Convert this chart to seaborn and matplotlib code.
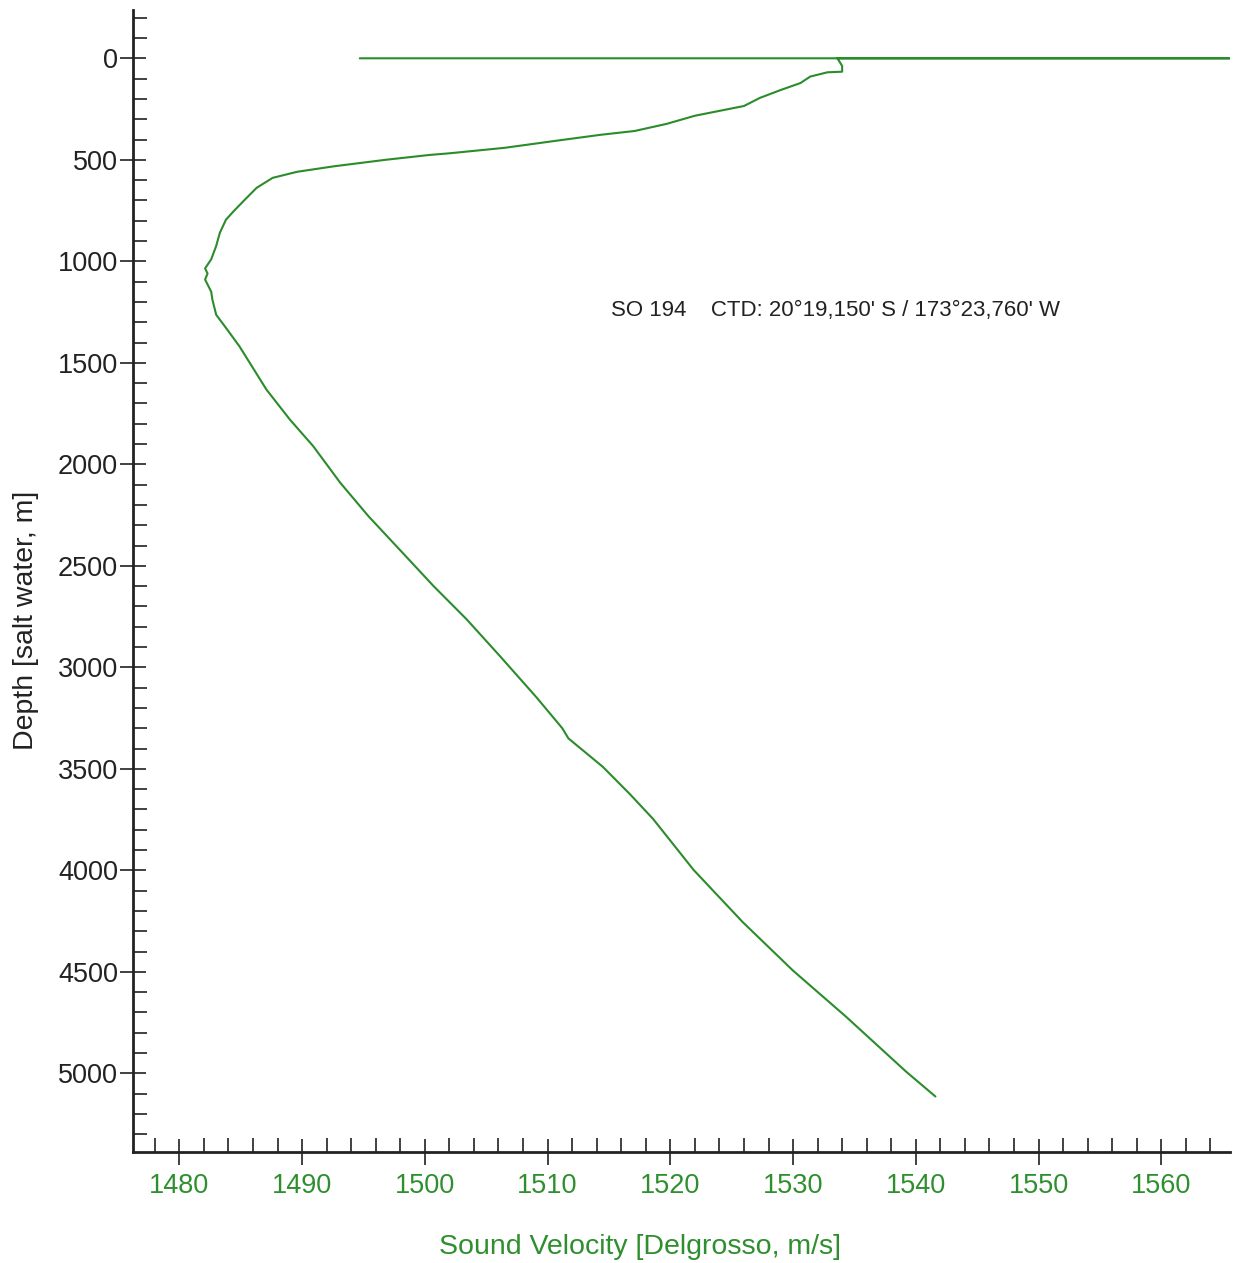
import matplotlib
matplotlib.use("Agg")
import matplotlib.pyplot as plt
from matplotlib.ticker import MultipleLocator
import pandas as pd
import seaborn as sns

# CTD sound velocity profile
velocity = [1494.7, 1570.0, 1533.6, 1533.8, 1534.0, 1534.0, 1532.8, 1531.4, 1530.6,
            1529.0, 1527.3, 1526.0, 1522.0, 1519.7, 1517.1, 1514.3, 1510.6, 1506.5,
            1502.0, 1500.4, 1496.8, 1492.6, 1489.6, 1487.6, 1486.3, 1485.2, 1484.4,
            1483.8, 1483.3, 1483.0, 1482.6, 1482.1, 1482.3, 1482.1, 1482.6, 1482.7,
            1482.9, 1483.0, 1483.9, 1484.9, 1487.1, 1489.0, 1490.9, 1493.1, 1495.4,
            1498.1, 1500.7, 1503.4, 1506.2, 1509.1, 1511.2, 1511.7, 1514.5, 1516.7,
            1518.6, 1521.9, 1525.9, 1530.0, 1534.3, 1539.2, 1541.6]
depth = [0, 0, 0, 18, 38, 66, 69, 90, 122,
         156, 195, 235, 283, 323, 358, 377, 407, 441,
         468, 476, 500, 532, 559, 589, 638, 705, 755,
         795, 860, 925, 990, 1035, 1060, 1090, 1150, 1190,
         1238, 1263, 1336, 1419, 1632, 1779, 1910, 2090, 2255,
         2430, 2599, 2763, 2950, 3148, 3300, 3350, 3490, 3624,
         3747, 3998, 4255, 4494, 4720, 4991, 5114]

y_ticks = list(range(0, 5001, 500))
x_ticks = list(range(1480, 1561, 10))
note = "SO 194    CTD: 20°19,150' S / 173°23,760' W"

green = "#2a8c2a"
text_green = "#2f8f2f"

sns.set_style("ticks")
plt.rcParams['font.family'] = ['Liberation Sans', 'DejaVu Sans']

df = pd.DataFrame({'velocity': velocity, 'depth': depth})

fig = plt.figure(figsize=(12.33, 12.63), dpi=100)
ax = fig.add_axes([0.1076, 0.0881, 0.89, 0.9040])

sns.lineplot(data=df, x='velocity', y='depth', sort=False, estimator=None,
             color=green, linewidth=1.5, ax=ax)

ax.set_xlim(1476.2, 1565.6)
ax.set_ylim(5386, -238)

ax.set_xticks(x_ticks)
ax.set_yticks(y_ticks)
ax.xaxis.set_minor_locator(MultipleLocator(2))
ax.yaxis.set_minor_locator(MultipleLocator(100))

ax.tick_params(axis='both', which='major', direction='inout', length=19,
               width=1.3, color='#333333', labelsize=19.5)
ax.tick_params(axis='both', which='minor', direction='in', length=10,
               width=1.3, color='#333333')
ax.tick_params(axis='x', which='major', labelcolor=text_green, pad=6)
ax.tick_params(axis='y', which='major', labelcolor='#222222', pad=1)

for s in ['top', 'right']:
    ax.spines[s].set_visible(False)
for s in ['left', 'bottom']:
    ax.spines[s].set_linewidth(2)
    ax.spines[s].set_color('#222222')

ax.set_xlabel('Sound Velocity [Delgrosso, m/s]', fontsize=20.5, color=text_green)
ax.set_ylabel('Depth [salt water, m]', fontsize=20.5, color='#222222')
ax.xaxis.set_label_coords(0.462, -0.072)
ax.yaxis.set_label_coords(-0.085, 0.4657)

ax.text(1515.2, 1243, note, fontsize=16, color='#222222', va='center', ha='left')

plt.savefig('out.png', dpi=100)
